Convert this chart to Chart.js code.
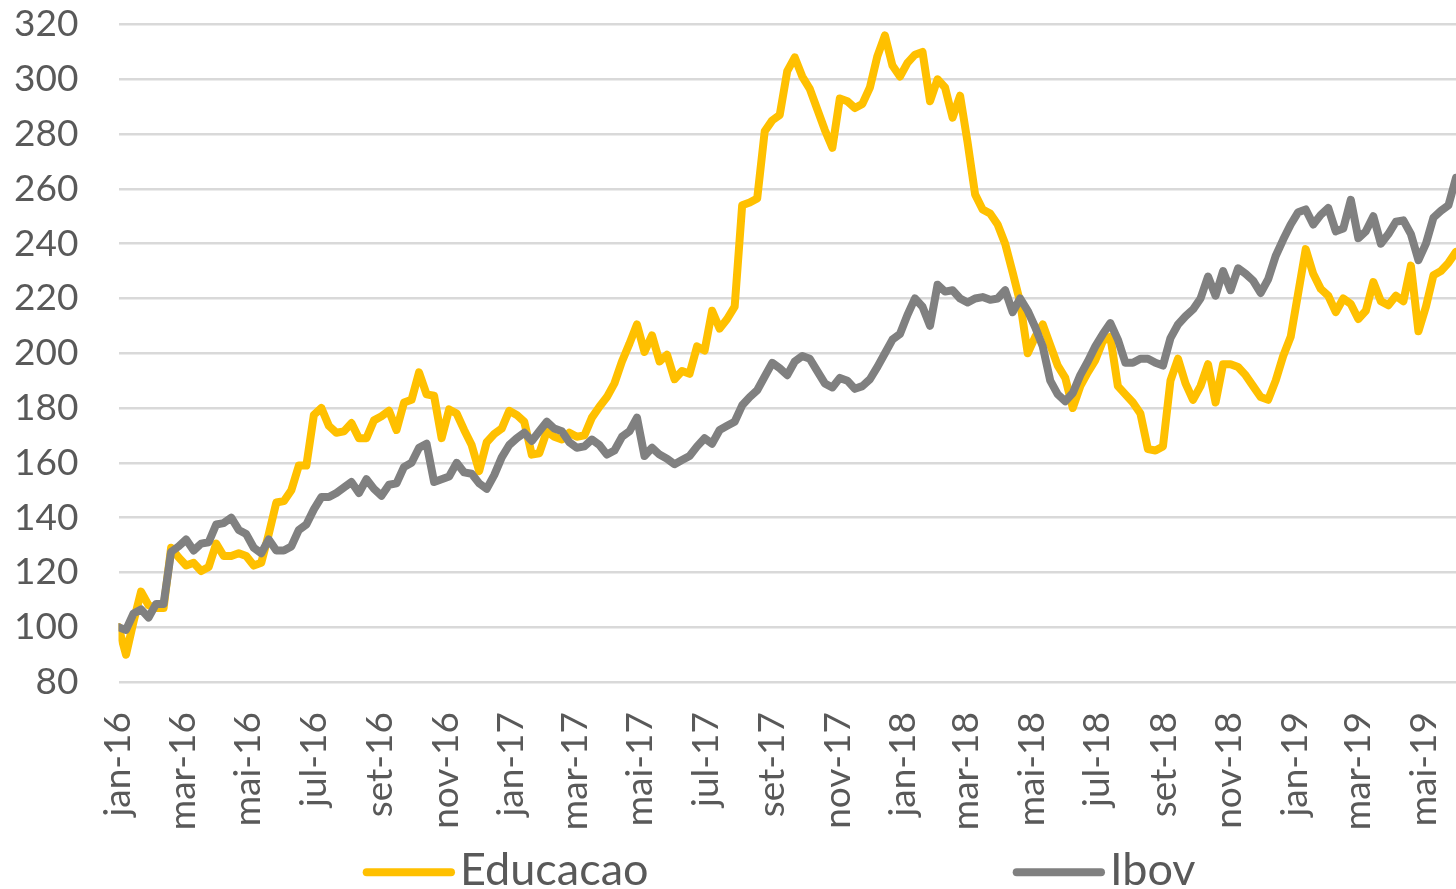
<!DOCTYPE html>
<html>
<head>
<meta charset="utf-8">
<script src="https://cdn.jsdelivr.net/npm/chart.js@4.4.1/dist/chart.umd.min.js"></script>
<style>
  html, body { margin: 0; padding: 0; background: #ffffff; }
  #wrap { width: 1456px; height: 889px; position: relative; }
</style>
</head>
<body>
<div id="wrap"><canvas id="c" width="1456" height="889"></canvas></div>
<script>
// ---------------- data ----------------
const seriesNames = ['Educacao', 'Ibov'];
const startDate = '2016-01-01';
const stepDays = 7;

const tickLabels = ['jan-16','mar-16','mai-16','jul-16','set-16','nov-16',
                    'jan-17','mar-17','mai-17','jul-17','set-17','nov-17',
                    'jan-18','mar-18','mai-18','jul-18','set-18','nov-18',
                    'jan-19','mar-19','mai-19'];

const yTicks = { min: 80, max: 320, step: 20 };

const educacao = [
  100, 90, 102, 113, 108, 107, 107, 129, 125.5, 122.5,
  123.5, 120.5, 122, 130.5, 126, 126, 127, 126, 122.5, 123.5,
  134, 145.5, 146, 150, 159, 159, 177.5, 180, 173.5, 171,
  171.5, 174.5, 169, 169, 175.5, 177, 179, 172, 182, 183,
  193, 185, 184.5, 169, 179.5, 178, 172, 166.5, 157, 167.5,
  170.5, 172.5, 179, 177.5, 175, 163, 163.5, 171.5, 169.5, 168.5,
  171, 169.5, 170, 176.5, 180.5, 184, 189, 197, 203.5, 210.5,
  200.5, 206.5, 197, 199.5, 190.5, 193.5, 192.5, 202.5, 201, 215.5,
  209, 212.5, 217, 254, 255, 256.5, 281, 285, 287, 303,
  308, 301, 296.5, 289, 281.5, 275, 293, 292, 289.5, 291,
  297, 308.5, 316, 305, 301, 306, 309, 310, 292, 300,
  297, 286, 294, 277, 258, 252.5, 251, 247, 240, 229.5,
  218.5, 200, 206, 210.5, 203, 195.5, 191, 180, 188, 193,
  197.5, 204.5, 206, 188, 185, 182, 178, 165, 164.5, 166,
  190, 198, 189, 183, 188, 196, 182, 196, 196, 195,
  192, 188, 184, 183, 190, 199, 206, 222, 238, 229,
  223.5, 221, 215, 220, 218, 212.5, 215.5, 226, 219, 217.5,
  221, 219, 232, 208, 217, 228.5, 230, 233, 237
];

const ibov = [
  100, 99, 105, 106.5, 103.5, 108.5, 108.5, 127.5, 129.5, 132,
  128, 130.5, 131, 137.5, 138, 140, 135.5, 134, 129, 127,
  132, 128, 128, 129.5, 135.5, 137.5, 143, 147.5, 147.5, 149,
  151, 153, 149, 154, 150.5, 148, 152, 152.5, 158.5, 160,
  165.5, 167, 153, 154, 155, 160, 156.5, 156, 152.5, 150.5,
  155.5, 162, 166.5, 169, 171, 168, 171.5, 175, 172.5, 171.5,
  167.5, 165.5, 166, 168.5, 166.5, 163, 164.5, 169.5, 171.5, 176.5,
  162.5, 165.5, 163, 161.5, 159.5, 161, 162.5, 166, 169, 167,
  172, 173.5, 175, 181, 184, 186.5, 191.5, 196.5, 194.5, 192,
  197, 199, 198, 193.5, 189, 187.5, 191, 190, 187, 188,
  190.5, 195, 200, 205, 207, 214, 220, 217, 210, 225,
  222.5, 223, 220, 218.5, 220, 220.5, 219.5, 220, 223, 215,
  220, 215.5, 209.5, 202.5, 190, 185, 182.5, 185.5, 192, 197,
  202.5, 207, 211, 205, 196.5, 196.5, 198, 198, 196.5, 195.5,
  205.5, 210.5, 213.5, 216, 220, 228, 221, 230, 223, 231,
  229, 226.5, 222, 227, 235.5, 241.5, 247, 251.5, 252.5, 247,
  250.5, 253, 244.5, 245.5, 256, 242, 244.5, 250, 240, 243.5,
  248, 248.5, 243.5, 234, 240, 249.5, 252, 254, 264
];

// ---------------- helpers ----------------
const DAY_MS = 86400000;
const t0 = Date.parse(startDate + 'T00:00:00Z');
const monthAbbr = ['jan','fev','mar','abr','mai','jun','jul','ago','set','out','nov','dez'];
function labelToDay(lbl) {
  const parts = lbl.split('-');
  const m = monthAbbr.indexOf(parts[0]);
  const y = 2000 + parseInt(parts[1], 10);
  return (Date.UTC(y, m, 1) - t0) / DAY_MS;
}
const tickDays = tickLabels.map(labelToDay);
const toPoints = arr => arr.map((v, i) => ({ x: i * stepDays, y: v }));
const lastDay = (Math.max(educacao.length, ibov.length) - 1) * stepDays;

const TEXT = '#595959';
const FONT = 'Lato';
const COLORS = ['#FFC000', '#808080'];
const LINE_W = 8;

// custom Excel-like legend drawn on the chart canvas
const excelLegend = {
  id: 'excelLegend',
  afterDraw(chart) {
    const ctx = chart.ctx;
    const starts = [362.7, 1012.7];
    const yLine = 872.3;
    const lineLen = 92.3;
    ctx.save();
    chart.data.datasets.forEach((ds, i) => {
      const x = starts[i];
      ctx.strokeStyle = ds.borderColor;
      ctx.lineWidth = LINE_W;
      ctx.lineCap = 'round';
      ctx.beginPath();
      ctx.moveTo(x + LINE_W / 2, yLine);
      ctx.lineTo(x + lineLen - LINE_W / 2, yLine);
      ctx.stroke();
      ctx.fillStyle = TEXT;
      ctx.font = '45px ' + FONT;
      ctx.textAlign = 'left';
      ctx.textBaseline = 'alphabetic';
      ctx.fillText(ds.label, x + lineLen + 5, 885);
    });
    ctx.restore();
  }
};

function build() {
  const ctx = document.getElementById('c').getContext('2d');
  new Chart(ctx, {
    type: 'line',
    data: {
      datasets: [
        {
          label: seriesNames[0],
          data: toPoints(educacao),
          borderColor: COLORS[0],
          backgroundColor: COLORS[0],
          borderWidth: LINE_W,
          pointRadius: 0,
          tension: 0,
          borderJoinStyle: 'round',
          borderCapStyle: 'round',
          order: 1
        },
        {
          label: seriesNames[1],
          data: toPoints(ibov),
          borderColor: COLORS[1],
          backgroundColor: COLORS[1],
          borderWidth: LINE_W,
          pointRadius: 0,
          tension: 0,
          borderJoinStyle: 'round',
          borderCapStyle: 'round',
          order: 0
        }
      ]
    },
    options: {
      responsive: false,
      animation: false,
      devicePixelRatio: 1,
      layout: { padding: { top: 24.5, right: 0, bottom: 0, left: 0 } },
      plugins: {
        legend: { display: false },
        tooltip: { enabled: false },
        title: { display: false }
      },
      scales: {
        x: {
          type: 'linear',
          min: 0,
          max: lastDay,
          afterBuildTicks: (scale) => {
            scale.ticks = tickDays.map(v => ({ value: v }));
          },
          afterFit: (scale) => {
            scale.height = 889 - 682;
            scale.paddingLeft = 0;
            scale.paddingRight = 0;
          },
          ticks: {
            autoSkip: false,
            minRotation: 90,
            maxRotation: 90,
            padding: 0,
            color: TEXT,
            font: { family: FONT, size: 37 },
            callback: (value, index) => tickLabels[index]
          },
          grid: {
            display: true,
            drawOnChartArea: false,
            drawTicks: true,
            tickLength: 30,
            color: 'rgba(0,0,0,0)',
            tickColor: 'rgba(0,0,0,0)'
          },
          border: { display: false }
        },
        y: {
          min: yTicks.min,
          max: yTicks.max,
          afterFit: (scale) => {
            scale.width = 118.5;
            scale.paddingTop = 0;
            scale.paddingBottom = 0;
          },
          ticks: {
            stepSize: yTicks.step,
            padding: 40,
            color: TEXT,
            font: { family: FONT, size: 37 }
          },
          grid: {
            color: '#d9d9d9',
            lineWidth: 2.5,
            drawTicks: false
          },
          border: { display: false }
        }
      }
    },
    plugins: [excelLegend]
  });
}

if (document.fonts && document.fonts.load) {
  Promise.all([
    document.fonts.load('37px Lato'),
    document.fonts.load('45px Lato')
  ]).then(build, build);
} else {
  build();
}
</script>
</body>
</html>
